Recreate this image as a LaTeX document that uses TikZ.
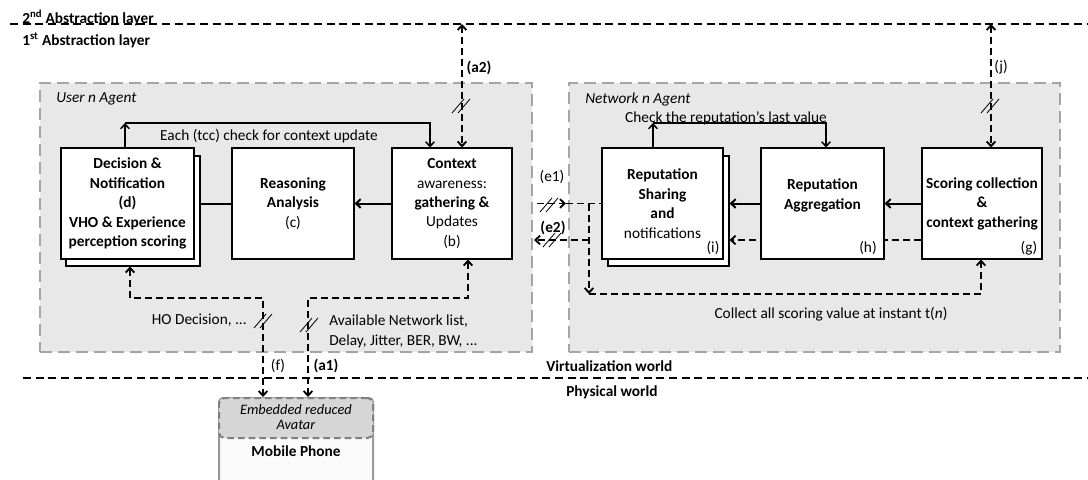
\documentclass[tikz,border=0pt]{standalone}
\usepackage{fontspec}
\setmainfont{Carlito}
\usetikzlibrary{arrows.meta}
\pgfdeclarelayer{back}
\pgfdeclarelayer{mid}
\pgfsetlayers{back,mid,main}
\definecolor{agentfill}{HTML}{E8E8E8}
\definecolor{agentdraw}{HTML}{A5A5A5}
\definecolor{avfill}{HTML}{D6D6D6}
\definecolor{avdraw}{HTML}{808080}
\definecolor{phdraw}{HTML}{9A9A9A}
\definecolor{phfill}{HTML}{FBFBFB}
\begin{document}
\begin{tikzpicture}[x=0.75pt,y=-0.75pt,
  >={Straight Barb[length=3.5pt,width=6.5pt]},
  every node/.style={font=\fontsize{11.5}{14.6}\selectfont, inner sep=0pt},
  agent/.style={draw=agentdraw, fill=agentfill, line width=2.2pt, dash pattern=on 9pt off 4.5pt},
  wbox/.style={draw=black, fill=white, line width=0.8pt, minimum height=111*0.75pt, align=center},
  shbox/.style={draw=black, fill=white, line width=0.8pt, minimum height=110*0.75pt},
  solidarr/.style={->, line width=1.5pt},
  looparr/.style={->, line width=1.1pt},
  dar/.style={line width=1.4pt, dash pattern=on 5.25pt off 3pt},
  sepline/.style={line width=2pt, dash pattern=on 6pt off 3.5pt},
  boldtxt/.style={font=\fontsize{11.5}{14.6}\selectfont\bfseries},
  itxt/.style={font=\fontsize{11.5}{14.6}\selectfont\itshape},
  brk/.pic={\draw[line width=0.6pt] (-9,7) -- (3,-7) (-3,7) -- (9,-7);}
]
\useasboundingbox (0,0) rectangle (1088,479);

% layer separators
\draw[sepline] (10,24) -- (1088,24);
\draw[sepline] (23,378) -- (1088,378);
\node[boldtxt, anchor=west] (l2) at (22,18) {2\textsuperscript{nd} Abstraction layer};
\node[boldtxt, anchor=west] (l1) at (22,40) {1\textsuperscript{st} Abstraction layer};
\node[boldtxt, anchor=west] (vw) at (546,366) {Virtualization world};
\node[boldtxt, anchor=west] (pw) at (566,392) {Physical world};

% agent containers
\begin{pgfonlayer}{back}
\node[agent, minimum width=492*0.75pt, minimum height=269*0.75pt] (user) at (286,217.5) {};
\node[agent, minimum width=491*0.75pt, minimum height=269*0.75pt] (net) at (814.5,217.5) {};
\end{pgfonlayer}
\node[itxt, anchor=west] (ulab) at (56,99) {User n Agent};
\node[itxt, anchor=west] (nlab) at (585,99) {Network n Agent};

% user agent boxes
\node[shbox, minimum width=134*0.75pt] (decS) at (133,211) {};
\node[wbox, boldtxt, minimum width=133*0.75pt] (dec) at (127.5,203.5) {Decision \&\\Notification\\(d)\\VHO \& Experience\\perception scoring};
\node[wbox, minimum width=122*0.75pt] (rea) at (293,203.5) {\textbf{Reasoning}\\\textbf{Analysis}\\(c)};
\node[wbox, minimum width=120*0.75pt] (ctx) at (452,203.5) {\textbf{Context}\\awareness:\\\textbf{gathering \&}\\Updates\\(b)};

% network agent boxes
\node[shbox, minimum width=121*0.75pt] (rshS) at (668.5,211) {};
\node[wbox, minimum width=121*0.75pt] (rsh) at (662.5,203.5) {\textbf{Reputation}\\\textbf{Sharing}\\\textbf{and}\\notifications};
\node[wbox, minimum width=123*0.75pt] (agg) at (822.5,203.5) {};
\node[boldtxt, align=center] (aggT) at (822.5,195.5) {Reputation\\Aggregation};
\node[wbox, boldtxt, minimum width=120*0.75pt] (sco) at (982,203.5) {Scoring collection\\\&\\context gathering};
\node (li) at (713,248) {(i)};
\node (lh) at (868,248) {(h)};
\node (lg) at (1029,248) {(g)};

% phone
\node[draw=phdraw, fill=phfill, line width=1.5pt, rounded corners=3pt, minimum width=154*0.75pt, minimum height=88*0.75pt, anchor=north] (phone) at (296,397) {};
\node[draw=avdraw, fill=avfill, line width=1.5pt, dash pattern=on 5pt off 3pt, rounded corners=4pt, minimum width=154*0.75pt, minimum height=40*0.75pt, anchor=north] (avatar) at (296,397) {};
\node[itxt, align=center, font=\fontsize{10.8}{11.4}\selectfont\itshape] (avT) at (296,417) {Embedded reduced\\Avatar};
\node[boldtxt] (mp) at (296,451) {Mobile Phone};

% texts
\node (tcc) at (269,136) {Each (tcc) check for context update};
\node (chk) at (726,118) {Check the reputation’s last value};
\node[anchor=east] (hod) at (247,320) {HO Decision, ...};
\node[anchor=west, align=left, font=\fontsize{11.5}{15}\selectfont] (anl) at (329,331) {Available Network list,\\Delay, Jitter, BER, BW, ...};
\node (col) at (831,314) {Collect all scoring value at instant t(\textit{n})};
\node[boldtxt] (la2) at (479,68) {(a2)};
\node (lj) at (1001,67) {(j)};
\node (le1) at (552,177) {(e1)};
\node[boldtxt] (le2) at (553,228) {(e2)};
\node (lf) at (278,366) {(f)};
\node[boldtxt] (la1) at (326,366) {(a1)};

% connectors
\begin{pgfonlayer}{mid}
\draw[solidarr] (ctx.west) -- (rea.east);
\draw[solidarr] (rea.west) -- (dec.east);
\draw[solidarr] (sco.west) -- (agg.east);
\draw[solidarr] (agg.west) -- (rshS.east |- agg.west);
% top loops
\coordinate (c1) at (125,123);
\coordinate (c2) at (430,123);
\draw[looparr] (c1 |- dec.north) -- (c1);
\draw[looparr] (c1) -- (c2) -- (c2 |- ctx.north);
\coordinate (n1) at (653,123);
\coordinate (n2) at (826,123);
\draw[looparr] (n1 |- rsh.north) -- (n1);
\draw[looparr] (n1) -- (n2) -- (n2 |- agg.north);
% vertical links to upper layer
\coordinate (a2t) at (462,24);
\draw[dar,<->] (a2t) -- (a2t |- ctx.north);
\coordinate (jt) at (991,24);
\draw[dar,<->] (jt) -- (jt |- sco.north);
% links to the phone
\coordinate (f1) at (130,298);
\coordinate (f2) at (263,298);
\draw[dar,<->] (f1 |- decS.south) -- (f1) -- (f2) -- (f2 |- phone.north);
\coordinate (g1) at (308,298);
\coordinate (g2) at (468,298);
\draw[dar,<->] (g1 |- phone.north) -- (g1) -- (g2) -- (g2 |- ctx.south);
% e1 / e2 and collection
\coordinate (e1s) at (537,203.5);
\coordinate (e1t) at (566,203.5);
\draw[dar,->] (e1s) -- (e1t);
\draw[dar] (e1t) -- (rsh.west);
\coordinate (v1) at (589,203.5);
\coordinate (v2) at (589,294);
\coordinate (v3) at (981,294);
\draw[dar,->] (v1) -- (v2);
\draw[dar,->] (v2) -- (v3) -- (v3 |- sco.south);
\coordinate (e2s) at (589,240);
\coordinate (e2t) at (534,240);
\draw[dar,->] (e2s) -- (e2t);
\draw[dar,->] (sco.west |- e2s) -- (rshS.east |- e2s);
% break marks
\pic at (461,106) {brk};
\pic at (990,106) {brk};
\pic at (263,321) {brk};
\pic at (309,325) {brk};
\pic at (549,205) {brk};
\pic at (552,240) {brk};
\end{pgfonlayer}
\end{tikzpicture}
\end{document}
